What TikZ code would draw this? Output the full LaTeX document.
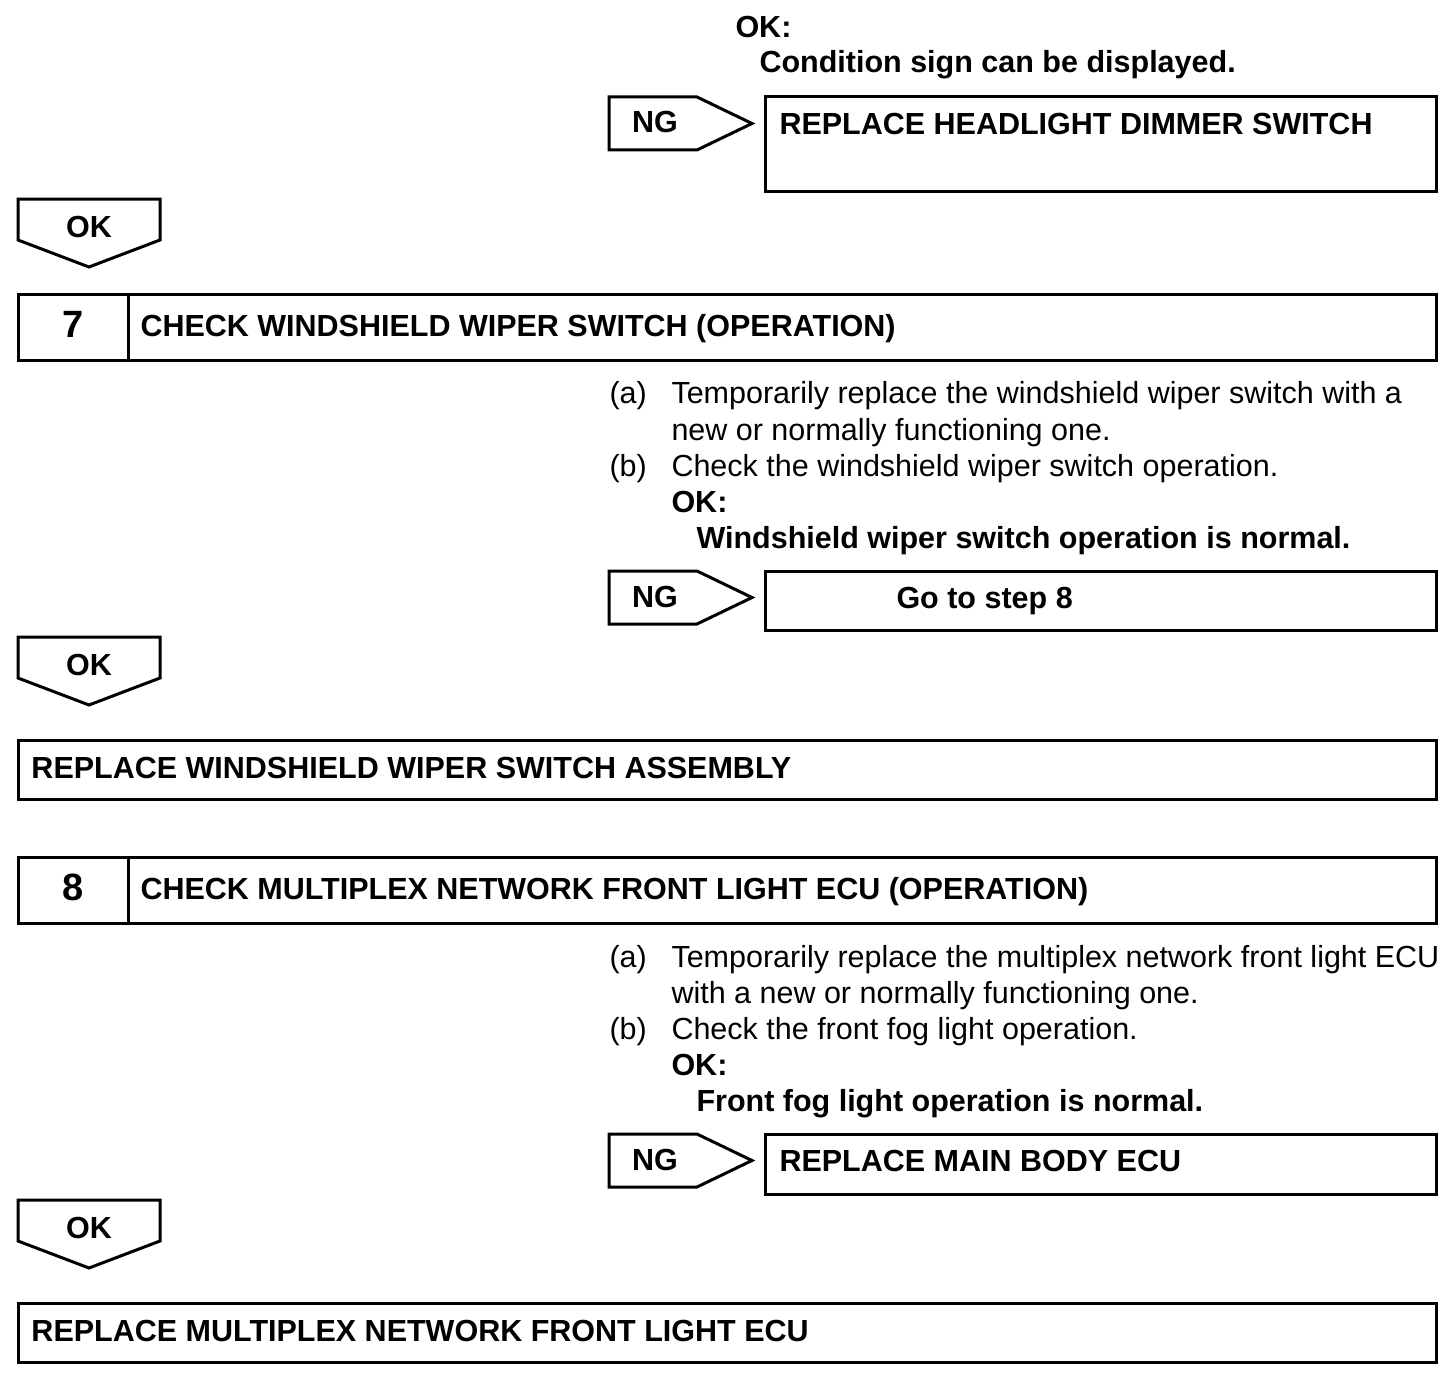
\documentclass[tikz,border=0pt]{standalone}
\usepackage{fontspec}
\setmainfont{Liberation Sans}
\usetikzlibrary{positioning}

\begin{document}
\begin{tikzpicture}[x=0.5pt, y=-0.5pt, line width=1.5pt, line join=miter,
    txt/.style={inner sep=0pt, anchor=base west, font=\fontsize{15.25}{18}\selectfont},
    hd/.style={txt, font=\fontsize{15.25}{18}\selectfont\bfseries},
    tag/.style={inner sep=0pt, anchor=base, font=\fontsize{15.25}{18}\selectfont\bfseries},
    num/.style={tag, font=\fontsize{19}{22}\selectfont\bfseries}]
  \useasboundingbox (0,0) rectangle (1456,1386);
  % top: end of step 6
  \node[hd] (ok6) at (734,38) {OK:};
  \node[hd] (cond6) at (758,73) {Condition sign can be displayed.};
  % NG arrows with their boxes on the right
  \foreach \t/\n in {97/a,571/b,1134/c} {
    \draw (609,\t) -- (697,\t) -- (752,\t+26.5) -- (697,\t+53) -- (609,\t+53) -- cycle;
    \node[tag] (ng\n) at (655,\t+36) {NG};
  }
  \draw (765,97) rectangle (1436,191);
  \node[hd] (rhd) at (778,134) {REPLACE HEADLIGHT DIMMER SWITCH};
  \draw (765,571) rectangle (1436,630);
  \node[hd] (go8) at (895,608) {Go to step 8};
  \draw (765,1134) rectangle (1436,1194);
  \node[hd] (rmb) at (778,1171) {REPLACE MAIN BODY ECU};
  % OK arrows down the left
  \foreach \t/\n in {199/a,637/b,1200/c} {
    \draw (18,\t) -- (160,\t) -- (160,\t+41) -- (89,\t+68) -- (18,\t+41) -- cycle;
    \node[tag] (ok\n) at (89,\t+38) {OK};
  }
  % step 7
  \draw (18,294) rectangle (1436,360);
  \draw (128,294) -- (128,360);
  \node[num] (s7) at (73,337) {7};
  \node[hd] (h7) at (139,336) {CHECK WINDSHIELD WIPER SWITCH (OPERATION)};
  \node[txt] (a7) at (608,403) {(a)};
  \node[txt] (a7l1) at (670,403) {Temporarily replace the windshield wiper switch with a};
  \node[txt] (a7l2) at (670,440) {new or normally functioning one.};
  \node[txt] (b7) at (608,476) {(b)};
  \node[txt] (b7l1) at (670,476) {Check the windshield wiper switch operation.};
  \node[hd] (ok7) at (670,512) {OK:};
  \node[hd] (c7) at (695,548) {Windshield wiper switch operation is normal.};
  \draw (18,740) rectangle (1436,799);
  \node[hd] (rws) at (30,778) {REPLACE WINDSHIELD WIPER SWITCH ASSEMBLY};
  % step 8
  \draw (18,857) rectangle (1436,923);
  \draw (128,857) -- (128,923);
  \node[num] (s8) at (73,900) {8};
  \node[hd] (h8) at (139,899) {CHECK MULTIPLEX NETWORK FRONT LIGHT ECU (OPERATION)};
  \node[txt] (a8) at (608,967) {(a)};
  \node[txt] (a8l1) at (670,967) {Temporarily replace the multiplex network front light ECU};
  \node[txt] (a8l2) at (670,1003) {with a new or normally functioning one.};
  \node[txt] (b8) at (608,1039) {(b)};
  \node[txt] (b8l1) at (670,1039) {Check the front fog light operation.};
  \node[hd] (ok8) at (670,1075) {OK:};
  \node[hd] (c8) at (695,1111) {Front fog light operation is normal.};
  \draw (18,1303) rectangle (1436,1362);
  \node[hd] (rmf) at (30,1341) {REPLACE MULTIPLEX NETWORK FRONT LIGHT ECU};
\end{tikzpicture}
\end{document}
